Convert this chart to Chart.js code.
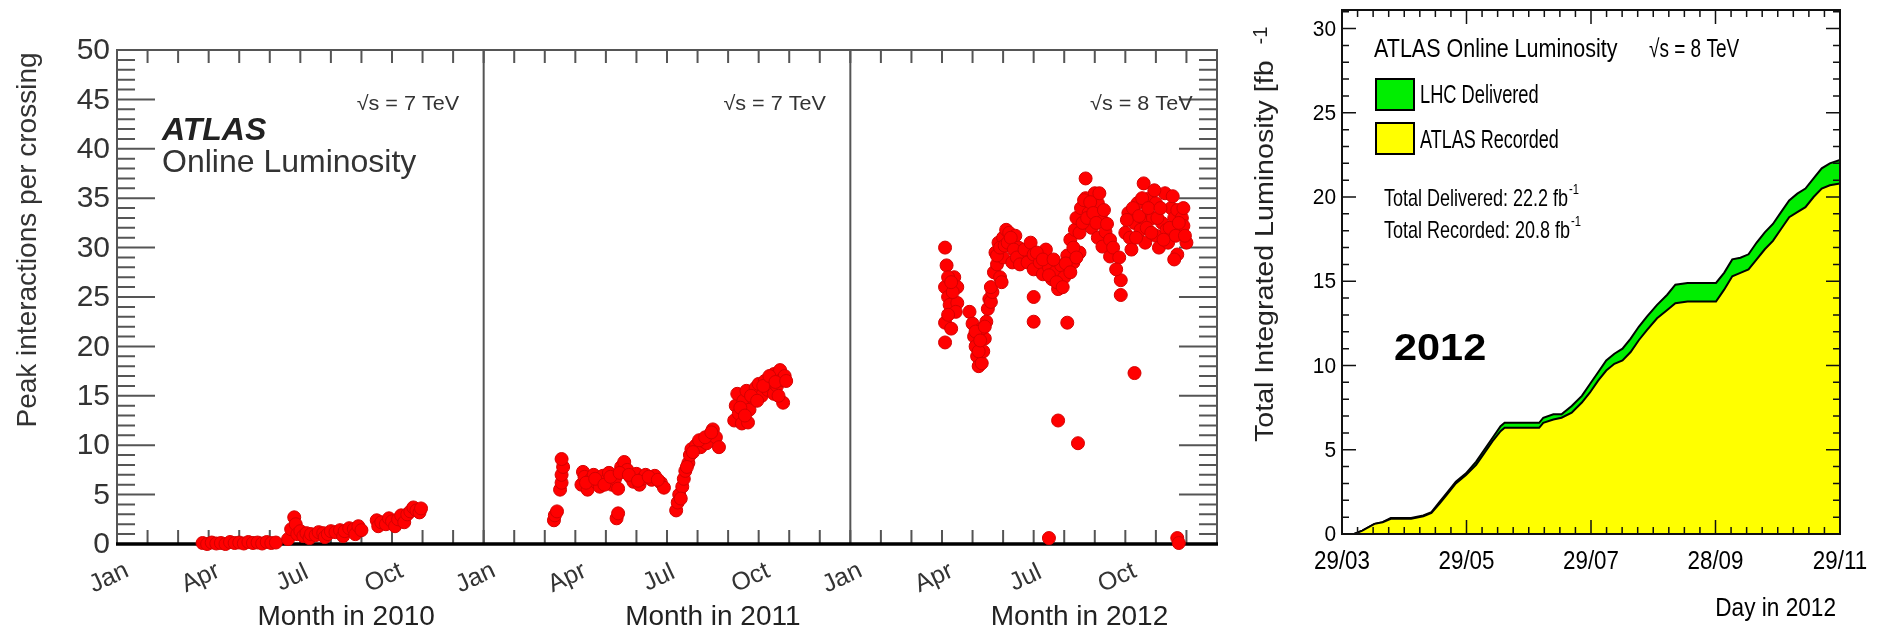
<!DOCTYPE html>
<html>
<head>
<meta charset="utf-8">
<script src="https://cdn.jsdelivr.net/npm/chart.js@4.4.0/dist/chart.umd.min.js"></script>
<style>
html, body { margin: 0; padding: 0; background: #fff; width: 1879px; height: 630px; overflow: hidden; }
#pileup { position: absolute; left: 0; top: 0; }
#lumi { position: absolute; left: 1240px; top: 0; }
</style>
</head>
<body>
<canvas id="pileup" width="1240" height="630"></canvas>
<canvas id="lumi" width="639" height="630"></canvas>
<script>
// ---- left: peak interactions per crossing (x = months since Jan 2010) ----
var monthTickLabels = ['Jan', 'Apr', 'Jul', 'Oct', 'Jan', 'Apr', 'Jul', 'Oct', 'Jan', 'Apr', 'Jul', 'Oct'];
var yearTitles = ['Month in 2010', 'Month in 2011', 'Month in 2012'];
var energyLabels = ['\u221As = 7 TeV', '\u221As = 7 TeV', '\u221As = 8 TeV'];
var peakTicks = [0, 5, 10, 15, 20, 25, 30, 35, 40, 45, 50];

var month2010 = [2.8, 2.95, 3.1, 3.25, 3.4, 3.55, 3.7, 3.85, 4.0, 4.15, 4.3, 4.45, 4.6, 4.75, 4.9, 5.05, 5.2,
  5.6, 5.7, 5.8, 5.85, 5.9, 6.0, 6.1, 6.2, 6.3, 6.35, 6.5, 6.6, 6.75, 6.8, 6.9, 7.0, 7.15, 7.3, 7.4, 7.45, 7.6, 7.75, 7.8, 7.9, 8.0,
  8.5, 8.55, 8.65, 8.8, 8.9, 9.0, 9.1, 9.2, 9.3, 9.4, 9.5, 9.6, 9.7, 9.8, 9.9, 9.95];
var peak2010 = [0.1, 0.0, 0.15, 0.05, 0.1, 0.0, 0.2, 0.1, 0.15, 0.05, 0.2, 0.1, 0.15, 0.05, 0.2, 0.1, 0.15,
  0.5, 1.5, 2.7, 2.0, 1.0, 1.3, 0.8, 1.1, 0.6, 1.0, 0.9, 1.2, 1.1, 0.7, 1.0, 1.3, 1.2, 1.4, 0.8, 1.3, 1.6, 1.5, 1.0, 1.8, 1.4,
  2.4, 1.8, 2.2, 2.0, 2.6, 2.3, 1.8, 2.5, 2.9, 2.2, 3.0, 3.3, 3.7, 3.4, 3.2, 3.6];

var month2011 = [14.3, 14.33, 14.4, 14.5, 14.55, 14.55, 14.6, 14.55,
  15.2, 15.25, 15.3, 15.4, 15.5, 15.6, 15.7, 15.8, 15.9, 16.0, 16.1, 16.2, 16.3, 16.4, 16.5, 16.6, 16.7, 16.8, 16.9, 17.0, 17.1, 17.2, 17.3, 17.5, 17.6, 17.8, 17.9,
  15.35, 15.65, 15.95, 16.15, 16.45, 16.75, 17.05, 17.4, 17.7,
  16.35, 16.4,
  18.3, 18.35, 18.4, 18.5, 18.55, 18.6, 18.7, 18.75, 18.8, 18.95, 19.1, 19.2, 19.3, 19.4, 19.5, 19.6, 19.7,
  18.45, 18.65, 18.85, 19.05, 19.25, 19.45,
  20.2, 20.25, 20.3, 20.35, 20.45, 20.5, 20.6, 20.65, 20.7, 20.8, 20.9, 21.0, 21.1, 21.2, 21.3, 21.4, 21.5, 21.5, 21.6, 21.7, 21.75, 21.8, 21.85,
  20.4, 20.55, 20.75, 20.95, 21.15, 21.35, 21.55, 21.65, 21.9];
var peak2011 = [2.4, 2.9, 3.3, 5.5, 6.2, 7.0, 7.8, 8.6,
  6.0, 7.3, 6.8, 5.5, 6.5, 7.0, 6.2, 5.8, 6.9, 6.4, 7.2, 6.0, 6.6, 5.6, 7.8, 8.3, 7.5, 6.8, 6.3, 7.1, 6.0, 6.6, 7.0, 6.5, 6.9, 6.2, 5.7,
  6.2, 6.6, 6.0, 6.8, 7.2, 7.0, 6.4, 6.8, 6.5,
  2.6, 3.1,
  3.4, 4.2, 5.0, 5.8, 6.6, 7.4, 8.2, 9.0, 9.6, 10.0, 9.8, 10.4, 10.2, 11.0, 11.6, 10.8, 9.8,
  4.6, 7.8, 9.3, 10.5, 10.8, 11.3,
  12.5, 14.0, 15.2, 13.2, 12.2, 14.5, 15.5, 12.3, 13.6, 14.8, 15.8, 16.2, 15.0, 16.5, 15.6, 16.8, 17.2, 15.2, 16.0, 17.6, 16.6, 14.3, 17.0,
  13.8, 13.0, 15.0, 14.5, 16.0, 17.0, 16.4, 15.0, 16.5];

var month2012 = [27.1, 27.15, 27.1, 27.2, 27.25, 27.1, 27.1, 27.4, 27.5, 27.5, 27.35, 27.45, 27.3,
  27.2, 27.3, 27.2,
  27.9, 28.0, 28.05, 28.1, 28.15, 28.2, 28.3, 28.35, 28.4, 28.3, 28.45, 28.5, 28.55,
  28.1, 28.2, 28.25, 28.4, 28.6, 28.65,
  28.6, 28.7, 28.8, 28.9, 28.75, 28.85, 29.0, 29.1, 29.2, 29.3, 29.4, 29.5, 29.6, 29.0, 28.95, 29.3,
  28.8, 28.9, 29.05, 29.15, 29.25, 29.35, 29.45, 29.55, 29.7, 29.8,
  29.9, 30.0, 30.0, 30.0, 30.0, 30.2, 30.3, 30.4, 30.5, 30.6, 30.7, 30.8, 30.8, 30.9, 31.0, 31.1, 31.1, 31.2, 31.3, 31.35, 31.45, 31.5, 30.5,
  30.1, 30.3, 30.5, 30.65, 30.75, 30.95, 31.05, 31.2, 31.3, 31.4,
  31.4, 31.55, 31.7, 31.7, 31.8, 31.9, 32.0, 32.1, 32.1, 32.2, 32.25, 32.35, 32.5, 32.5, 32.6, 32.8, 32.85, 32.85, 32.7,
  31.5, 31.6, 31.65, 31.75, 31.85, 31.95, 32.05, 32.15, 32.3, 32.4,
  33.0, 33.1, 33.15, 33.2, 33.3, 33.4, 33.5, 33.6, 33.6, 33.65, 33.8, 33.9, 34.0, 34.0, 34.1, 34.2, 34.3, 34.35, 34.4, 34.5,
  34.6, 34.7, 34.7, 34.8, 34.85, 34.9, 35.0, 34.6, 33.3, 34.7, 34.75,
  33.05, 33.25, 33.35, 33.45, 33.55, 33.7, 33.75, 33.85, 33.95, 34.05, 34.15, 34.25, 34.45, 34.55, 34.65, 34.75, 34.9, 34.95];
var peak2012 = [30.0, 28.2, 26.0, 25.0, 24.2, 22.4, 20.4, 27.0, 26.0, 24.4, 25.5, 23.5, 21.8,
  27.0, 26.5, 23.2,
  23.5, 22.3, 21.0, 20.0, 19.0, 18.0, 18.3, 19.5, 20.8, 21.8, 22.5, 23.8, 24.8,
  21.5, 19.5, 20.6, 22.0, 24.5, 25.5,
  26.0, 27.5, 28.3, 27.0, 29.5, 30.5, 31.0, 31.8, 31.5, 30.6, 31.2, 30.0, 29.2, 29.0, 26.5, 28.5,
  29.2, 30.0, 30.2, 30.5, 31.0, 29.8, 29.0, 28.3, 29.8, 28.5,
  30.5, 29.3, 27.8, 25.0, 22.5, 28.5, 27.3, 29.8, 28.0, 26.8, 27.5, 25.8, 12.5, 28.2, 27.0, 22.4, 29.2, 30.8, 28.5, 31.8, 10.2, 29.5, 0.6,
  29.5, 28.8, 27.2, 28.8, 26.5, 26.0, 28.4, 27.5, 30.0, 29.0,
  33.0, 34.0, 37.0, 35.0, 33.5, 32.0, 35.5, 34.5, 31.0, 33.0, 30.1, 31.6, 30.8, 29.1, 30.0, 29.0, 26.7, 25.2, 27.8,
  31.5, 32.5, 34.8, 33.0, 34.6, 33.5, 32.5, 35.5, 33.8, 32.4,
  31.5, 33.5, 31.0, 29.8, 32.5, 34.5, 31.8, 36.5, 33.1, 30.5, 35.0, 33.0, 34.5, 31.2, 30.0, 32.5, 35.5, 31.8, 30.5, 34.0,
  33.0, 33.8, 29.3, 31.6, 33.0, 32.2, 30.5, 28.8, 17.3, 0.6, 0.1,
  32.8, 34.0, 31.0, 33.2, 35.0, 32.0, 34.0, 31.5, 35.8, 33.0, 34.0, 30.8, 32.0, 35.2, 31.2, 32.5, 34.0, 31.2];

// ---- right: integrated luminosity 2012 (x = days since 29/03) ----
var dayTickLabels = ['29/03', '29/05', '29/07', '28/09', '29/11'];
var lumiTicks = [0, 5, 10, 15, 20, 25, 30];
var days = [0, 6, 10, 16, 20, 24, 34, 40, 44, 48, 52, 56, 61, 66, 70, 74, 78, 80, 88, 97,
  99, 104, 108, 113, 118, 122, 126, 130, 134, 138, 142, 146, 150, 155, 160, 164, 170, 178, 184, 188,
  192, 196, 200, 204, 208, 212, 216, 220, 224, 228, 232, 236, 240, 245];
var delivered = [0, 0, 0.2, 0.6, 0.7, 0.95, 0.95, 1.1, 1.3, 1.9, 2.5, 3.1, 3.6, 4.3, 5.0, 5.7, 6.4, 6.6, 6.6, 6.6,
  6.9, 7.1, 7.1, 7.6, 8.2, 8.9, 9.6, 10.3, 10.7, 11.0, 11.6, 12.3, 12.9, 13.6, 14.2, 14.8, 14.9, 14.9, 14.9, 15.5,
  16.3, 16.4, 16.6, 17.3, 17.9, 18.4, 19.1, 19.8, 20.2, 20.5, 21.1, 21.7, 22.0, 22.2];
var recorded = [0, 0, 0.2, 0.6, 0.7, 0.9, 0.9, 1.05, 1.25, 1.8, 2.4, 3.0, 3.5, 4.1, 4.8, 5.5, 6.1, 6.3, 6.3, 6.3,
  6.6, 6.8, 6.9, 7.2, 7.8, 8.4, 9.1, 9.7, 10.1, 10.3, 10.8, 11.5, 12.1, 12.8, 13.3, 13.7, 13.8, 13.8, 13.8, 14.5,
  15.3, 15.5, 15.7, 16.3, 16.9, 17.4, 18.1, 18.8, 19.1, 19.4, 20.0, 20.5, 20.7, 20.8];

var SANS = "'Liberation Sans', Arial, sans-serif";

function toPoints(xs, ys) {
  return xs.map(function (x, i) { return { x: x, y: ys[i] }; });
}

// draws text, optionally rotated and squeezed/stretched horizontally
function drawText(ctx, text, x, y, o) {
  ctx.save();
  ctx.translate(x, y);
  if (o.rotate) ctx.rotate(o.rotate);
  ctx.scale(o.sx || 1, 1);
  ctx.font = o.font;
  ctx.fillStyle = o.color || '#000';
  ctx.textAlign = o.align || 'left';
  ctx.textBaseline = o.baseline || 'alphabetic';
  ctx.fillText(text, 0, 0);
  var w = ctx.measureText(text).width * (o.sx || 1);
  ctx.restore();
  return w;
}

var pileupDecor = {
  id: 'pileupDecor',
  beforeDatasetsDraw: function (chart) {
    var ctx = chart.ctx, a = chart.chartArea, xs = chart.scales.x, ys = chart.scales.y;
    ctx.save();
    ctx.strokeStyle = '#555';
    ctx.lineWidth = 2;
    ctx.beginPath();
    for (var v = 0; v <= 50; v++) {
      var y = ys.getPixelForValue(v);
      var len = v % 5 === 0 ? 38 : 18;
      ctx.moveTo(a.left, y); ctx.lineTo(a.left + len, y);
      ctx.moveTo(a.right, y); ctx.lineTo(a.right - len, y);
    }
    for (var m = 0; m <= 36; m++) {
      var x = xs.getPixelForValue(m);
      ctx.moveTo(x, a.top); ctx.lineTo(x, a.top + 13);
      ctx.moveTo(x, a.bottom); ctx.lineTo(x, a.bottom - 14);
    }
    ctx.stroke();
    ctx.beginPath();
    [12, 24].forEach(function (m) {
      var x = xs.getPixelForValue(m);
      ctx.moveTo(x, a.top); ctx.lineTo(x, a.bottom);
    });
    ctx.moveTo(a.left, a.bottom); ctx.lineTo(a.left, a.top); ctx.lineTo(a.right, a.top); ctx.lineTo(a.right, a.bottom);
    ctx.stroke();
    ctx.strokeStyle = '#000';
    ctx.lineWidth = 3.5;
    ctx.beginPath();
    ctx.moveTo(a.left - 1, a.bottom); ctx.lineTo(a.right + 1, a.bottom);
    ctx.stroke();
    ctx.restore();
  },
  afterDraw: function (chart) {
    var ctx = chart.ctx, a = chart.chartArea, xs = chart.scales.x, ys = chart.scales.y;
    var grey = '#333';
    peakTicks.forEach(function (v) {
      drawText(ctx, String(v), 110, ys.getPixelForValue(v) + 1, { font: '30px ' + SANS, align: 'right', baseline: 'middle', color: grey });
    });
    monthTickLabels.forEach(function (lab, i) {
      drawText(ctx, lab, xs.getPixelForValue(i * 3) - 8, 578, { font: '25px ' + SANS, align: 'center', baseline: 'middle', rotate: -25 * Math.PI / 180, color: grey });
    });
    yearTitles.forEach(function (t, i) {
      drawText(ctx, t, xs.getPixelForValue(i * 12 + 7.5), 625, { font: '28px ' + SANS, align: 'center', color: '#222' });
      drawText(ctx, energyLabels[i], xs.getPixelForValue(i * 12 + 11.2), 110, { font: '20px ' + SANS, align: 'right', sx: 1.08, color: grey });
    });
    drawText(ctx, 'Peak interactions per crossing', 36, 240, { font: '28px ' + SANS, align: 'center', rotate: -Math.PI / 2, color: grey });
    drawText(ctx, 'ATLAS', 162, 140, { font: 'italic bold 32px ' + SANS, color: '#222' });
    drawText(ctx, 'Online Luminosity', 162, 172, { font: '32px ' + SANS, color: grey });
  }
};

new Chart(document.getElementById('pileup').getContext('2d'), {
  type: 'scatter',
  data: {
    datasets: [
      { data: toPoints(month2010, peak2010) },
      { data: toPoints(month2011, peak2011) },
      { data: toPoints(month2012, peak2012) }
    ]
  },
  options: {
    responsive: false,
    animation: false,
    layout: { padding: { left: 117, right: 23, top: 50, bottom: 86 } },
    elements: { point: { radius: 6.5, backgroundColor: '#ff0000', borderColor: '#d40000', borderWidth: 1 } },
    datasets: { scatter: { clip: false } },
    scales: {
      x: { type: 'linear', min: 0, max: 36, display: false },
      y: { type: 'linear', min: 0, max: 50, display: false }
    },
    plugins: { legend: { display: false }, tooltip: { enabled: false } }
  },
  plugins: [pileupDecor]
});

var lumiDecor = {
  id: 'lumiDecor',
  afterDatasetsDraw: function (chart) {
    var ctx = chart.ctx, a = chart.chartArea, xs = chart.scales.x, ys = chart.scales.y;
    ctx.save();
    ctx.strokeStyle = '#111';
    ctx.lineWidth = 1.5;
    ctx.beginPath();
    for (var v = 0; v <= 31; v++) {
      var y = ys.getPixelForValue(v);
      var len = v % 5 === 0 ? 14 : 7;
      ctx.moveTo(a.left, y); ctx.lineTo(a.left + len, y);
      ctx.moveTo(a.right, y); ctx.lineTo(a.right - len, y);
    }
    var step = (xs.max - xs.min) / 32;
    for (var k = 0; k <= 32; k++) {
      var x = xs.getPixelForValue(xs.min + k * step);
      var l = k % 8 === 0 ? 14 : 7;
      ctx.moveTo(x, a.top); ctx.lineTo(x, a.top + l);
      ctx.moveTo(x, a.bottom); ctx.lineTo(x, a.bottom - l);
    }
    ctx.stroke();
    ctx.lineWidth = 2;
    ctx.strokeRect(a.left, a.top, a.right - a.left, a.bottom - a.top);
    ctx.restore();
  },
  afterDraw: function (chart) {
    var ctx = chart.ctx, a = chart.chartArea, xs = chart.scales.x, ys = chart.scales.y;
    lumiTicks.forEach(function (v) {
      drawText(ctx, String(v), a.left - 6, ys.getPixelForValue(v) + 1, { font: '22px ' + SANS, align: 'right', baseline: 'middle', sx: 0.95 });
    });
    dayTickLabels.forEach(function (lab, i) {
      var x = xs.getPixelForValue(xs.min + i * (xs.max - xs.min) / 4);
      drawText(ctx, lab, x, 562, { font: '26px ' + SANS, align: 'center', baseline: 'middle', sx: 0.86 });
    });
    drawText(ctx, 'Day in 2012', 596, 616, { font: '26px ' + SANS, align: 'right', sx: 0.87 });
    var w = drawText(ctx, 'Total Integrated Luminosity [fb', 33, 442, { font: '26px ' + SANS, rotate: -Math.PI / 2, sx: 1.1, color: '#222' });
    ctx.save();
    ctx.translate(33, 442);
    ctx.rotate(-Math.PI / 2);
    ctx.font = '20px ' + SANS;
    ctx.fillStyle = '#222';
    ctx.fillText('-1', w + 16, -6);
    ctx.restore();

    drawText(ctx, 'ATLAS Online Luminosity', 134, 57, { font: '25px ' + SANS, sx: 0.86 });
    drawText(ctx, '\u221As = 8 TeV', 409, 57, { font: '25px ' + SANS, sx: 0.76 });

    ctx.save();
    ctx.lineWidth = 2;
    ctx.strokeStyle = '#000';
    ctx.fillStyle = '#00ee00';
    ctx.fillRect(136, 79, 38, 31); ctx.strokeRect(136, 79, 38, 31);
    ctx.fillStyle = '#ffff00';
    ctx.fillRect(136, 123, 38, 31); ctx.strokeRect(136, 123, 38, 31);
    ctx.restore();
    drawText(ctx, 'LHC Delivered', 180, 103, { font: '25px ' + SANS, sx: 0.73 });
    drawText(ctx, 'ATLAS Recorded', 180, 148, { font: '25px ' + SANS, sx: 0.72 });

    var w1 = drawText(ctx, 'Total Delivered: 22.2 fb', 144, 206, { font: '24px ' + SANS, sx: 0.75 });
    drawText(ctx, '-1', 144 + w1 + 1, 194, { font: '14px ' + SANS, sx: 0.8 });
    var w2 = drawText(ctx, 'Total Recorded: 20.8 fb', 144, 238, { font: '24px ' + SANS, sx: 0.75 });
    drawText(ctx, '-1', 144 + w2 + 1, 226, { font: '14px ' + SANS, sx: 0.8 });

    drawText(ctx, '2012', 154, 360, { font: 'bold 37px ' + SANS, sx: 1.12 });
  }
};

new Chart(document.getElementById('lumi').getContext('2d'), {
  type: 'line',
  data: {
    datasets: [
      {
        label: 'LHC Delivered',
        data: toPoints(days, delivered),
        borderColor: '#000',
        borderWidth: 2,
        backgroundColor: '#00ee00',
        fill: 'origin',
        pointRadius: 0,
        order: 2
      },
      {
        label: 'ATLAS Recorded',
        data: toPoints(days, recorded),
        borderColor: '#000',
        borderWidth: 2,
        backgroundColor: '#ffff00',
        fill: 'origin',
        pointRadius: 0,
        order: 1
      }
    ]
  },
  options: {
    responsive: false,
    animation: false,
    layout: { padding: { left: 102, right: 39, top: 10, bottom: 96 } },
    scales: {
      x: { type: 'linear', min: 0, max: 245, display: false },
      y: { type: 'linear', min: 0, max: 31.1, display: false }
    },
    plugins: { legend: { display: false }, tooltip: { enabled: false } }
  },
  plugins: [lumiDecor]
});
</script>
</body>
</html>
